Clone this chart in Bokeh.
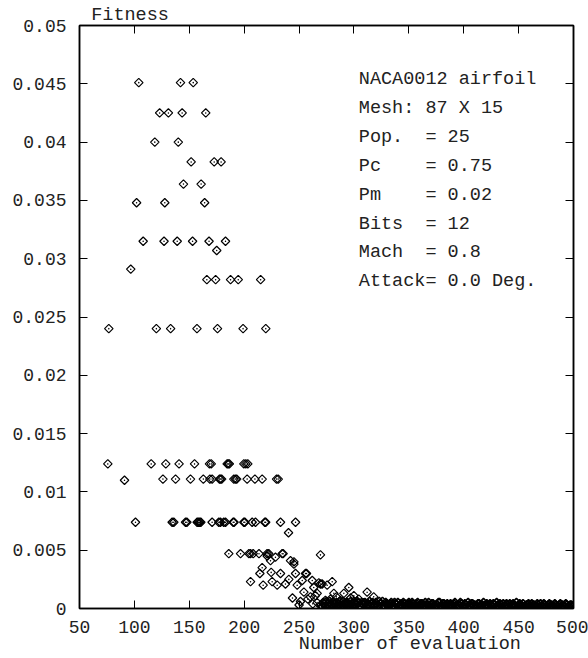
import math
from bokeh.plotting import figure
from bokeh.models import LinearAxis, FixedTicker, Label, Title
from bokeh.embed import file_html
from bokeh.resources import INLINE

# ---------------- data ----------------
x_ticks = [50, 100, 150, 200, 250, 300, 350, 400, 450, 500]
y_ticks = [0, 0.005, 0.01, 0.015, 0.02, 0.025, 0.03, 0.035, 0.04, 0.045, 0.05]
y_tick_labels = ["0", "0.005", "0.01", "0.015", "0.02", "0.025", "0.03",
                 "0.035", "0.04", "0.045", "0.05"]

x_label = "Number of evaluation"
y_label = "Fitness"
info_lines = ["NACA0012 airfoil", "Mesh: 87 X 15", "Pop.  = 25", "Pc    = 0.75",
              "Pm    = 0.02", "Bits  = 12", "Mach  = 0.8", "Attack= 0.0 Deg."]

# high-fitness region
high_x = [104, 142, 153.6,
          123, 131, 143.5, 165,
          118.6, 140,
          151.7, 172.7, 179,
          144.7, 160.8,
          102, 127.7, 164,
          108, 127, 139, 153, 168, 183,
          175,
          96.7,
          166, 174, 187.6, 194.6, 215,
          76.7, 120, 133, 157, 175.7, 199, 219.7]
high_y = [0.0451, 0.0451, 0.0451,
          0.0425, 0.0425, 0.0425, 0.0425,
          0.0400, 0.0400,
          0.0383, 0.0383, 0.0383,
          0.0364, 0.0364,
          0.0348, 0.0348, 0.0348,
          0.0315, 0.0315, 0.0315, 0.0315, 0.0315, 0.0315,
          0.0307,
          0.0291,
          0.0282, 0.0282, 0.0282, 0.0282, 0.0282,
          0.0240, 0.0240, 0.0240, 0.0240, 0.0240, 0.0240, 0.0240]

# middle rows
mid_x = [75.8, 115.3, 128.6, 140.7, 154.8, 168.4, 170, 184.5, 185.5, 186.5, 199.7, 201.5, 203.3,
         91,
         126, 137.5, 151.1, 162.8, 168.8, 170.8, 177.5, 178.4, 179.5, 190.6, 192.1, 193.2,
         202.7, 209.8, 216.4, 229.5, 231,
         101, 134.4, 135.9, 146.6, 147.8, 157.2, 158.3, 159.4, 160.5, 170.8, 176.9, 178.4,
         181.4, 183, 190, 190.8, 199.7, 200.6, 207.3, 210.3, 218.8, 219.6, 233.1, 246.8,
         240.4,
         186, 196.7, 204.3, 205.8, 208.2, 213.5, 220.9, 222.4, 234.6, 235.5, 269.5,
         221, 228.5, 242.2, 245.3]
mid_y = [0.0124, 0.0124, 0.0124, 0.0124, 0.0124, 0.0124, 0.0124, 0.0124, 0.0124, 0.0124,
         0.0124, 0.0124, 0.0124,
         0.0110,
         0.0111, 0.0111, 0.0111, 0.0111, 0.0111, 0.0111, 0.0111, 0.0111, 0.0111, 0.0111,
         0.0111, 0.0111, 0.0111, 0.0111, 0.0111, 0.0111, 0.0111,
         0.0074, 0.0074, 0.0074, 0.0074, 0.0074, 0.0074, 0.0074, 0.0074, 0.0074, 0.0074,
         0.0074, 0.0074, 0.0074, 0.0074, 0.0074, 0.0074, 0.0074, 0.0074, 0.0074, 0.0074,
         0.0074, 0.0074, 0.0074, 0.0074,
         0.0065,
         0.0047, 0.0047, 0.0047, 0.0047, 0.0047, 0.0047, 0.0047, 0.0047, 0.0047, 0.0047,
         0.0046,
         0.0045, 0.0044, 0.0041, 0.0038]

# converging region
low_x = [224, 245.3, 216.4, 214.3, 224.6, 233.1, 205.8, 217.3, 225.5, 230.1, 237.6, 240.7,
         246.8, 248.3, 256.8, 252.9, 254.4, 251.3, 262, 263.4, 260.4, 266.5, 271, 274,
         255.9, 280.2, 295.3, 312, 275.6, 269.5, 290.8, 299.9, 281.7, 264.9, 266.5,
         278.6, 287.7, 304.4, 309, 318, 268, 244, 250, 258, 262.5, 284, 292, 297]
low_y = [0.0041, 0.0040, 0.0035, 0.0030, 0.0031, 0.0030, 0.0023, 0.0020, 0.0023, 0.0020,
         0.0021, 0.0025, 0.0030, 0.0020, 0.0030, 0.0024, 0.0014, 0.0006, 0.0024, 0.0018,
         0.0010, 0.0013, 0.0021, 0.0007, 0.0030, 0.0023, 0.0018, 0.0014, 0.0020, 0.0021,
         0.0013, 0.0011, 0.0013, 0.0011, 0.0005, 0.0008, 0.0007, 0.0008, 0.0005, 0.0010,
         0.0022, 0.0009, 0.0003, 0.0008, 0.0004, 0.0010, 0.0004, 0.0009]

# converged tail (even evaluations)
tail_x = [270, 272, 274, 276, 278, 280, 282, 284, 286, 288,
          290, 292, 294, 296, 298, 300, 302, 304, 306, 308,
          310, 312, 314, 316, 318, 320, 322, 324, 326, 328,
          330, 332, 334, 336, 338, 340, 342, 344, 346, 348,
          350, 352, 354, 356, 358, 360, 362, 364, 366, 368,
          370, 372, 374, 376, 378, 380, 382, 384, 386, 388,
          390, 392, 394, 396, 398, 400, 402, 404, 406, 408,
          410, 412, 414, 416, 418, 420, 422, 424, 426, 428,
          430, 432, 434, 436, 438, 440, 442, 444, 446, 448,
          450, 452, 454, 456, 458, 460, 462, 464, 466, 468,
          470, 472, 474, 476, 478, 480, 482, 484, 486, 488,
          490, 492, 494, 496, 498, 500]
tail_y = [0.0003, 0.0005, 0.0002, 0.0004, 0.0006, 0.0003, 0.0001, 0.0005, 0.0004, 0.0002,
          0.0006, 0.0003, 0.0005, 0.0002, 0.0004, 0.0006, 0.0003, 0.0005, 0.0002, 0.0004,
          0.0005, 0.0003, 0.0006, 0.0004, 0.0002, 0.0005, 0.0003, 0.0004, 0.0006, 0.0002,
          0.0004, 0.0003, 0.0005, 0.0002, 0.0004, 0.0005, 0.0003, 0.0002, 0.0004, 0.0003,
          0.0005, 0.0002, 0.0004, 0.0003, 0.0005, 0.0002, 0.0004, 0.0003, 0.0002, 0.0005,
          0.0003, 0.0004, 0.0002, 0.0003, 0.0005, 0.0002, 0.0004, 0.0003, 0.0002, 0.0004,
          0.0003, 0.0005, 0.0002, 0.0003, 0.0004, 0.0002, 0.0003, 0.0005, 0.0002, 0.0004,
          0.0003, 0.0002, 0.0004, 0.0003, 0.0005, 0.0002, 0.0003, 0.0004, 0.0002, 0.0003,
          0.0005, 0.0002, 0.0003, 0.0004, 0.0002, 0.0003, 0.0004, 0.0002, 0.0003, 0.0005,
          0.0002, 0.0003, 0.0004, 0.0002, 0.0003, 0.0002, 0.0004, 0.0003, 0.0002, 0.0003,
          0.0004, 0.0002, 0.0003, 0.0002, 0.0004, 0.0003, 0.0002, 0.0003, 0.0002, 0.0004,
          0.0003, 0.0002, 0.0003, 0.0002, 0.0003, 0.0002]

# converged tail (odd evaluations)
tail2_x = [271, 273, 275, 277, 279, 281, 283, 285, 287, 289,
           291, 293, 295, 297, 299, 301, 303, 305, 307, 309,
           311, 313, 315, 317, 319, 321, 323, 325, 327, 329,
           331, 333, 335, 337, 339, 341, 343, 345, 347, 349,
           351, 353, 355, 357, 359, 361, 363, 365, 367, 369,
           371, 373, 375, 377, 379, 381, 383, 385, 387, 389,
           391, 393, 395, 397, 399, 401, 403, 405, 407, 409,
           411, 413, 415, 417, 419, 421, 423, 425, 427, 429,
           431, 433, 435, 437, 439, 441, 443, 445, 447, 449,
           451, 453, 455, 457, 459, 461, 463, 465, 467, 469,
           471, 473, 475, 477, 479, 481, 483, 485, 487, 489,
           491, 493, 495, 497, 499]
tail2_y = [0.0001, 0.0004, 0.0006, 0.0002, 0.0003, 0.0005, 0.0004, 0.0001, 0.0006, 0.0003,
           0.0002, 0.0005, 0.0003, 0.0006, 0.0001, 0.0004, 0.0006, 0.0002, 0.0005, 0.0003,
           0.0001, 0.0004, 0.0002, 0.0005, 0.0003, 0.0002, 0.0006, 0.0001, 0.0003, 0.0005,
           0.0002, 0.0004, 0.0001, 0.0005, 0.0003, 0.0002, 0.0004, 0.0005, 0.0001, 0.0004,
           0.0003, 0.0005, 0.0001, 0.0004, 0.0002, 0.0004, 0.0001, 0.0005, 0.0003, 0.0002,
           0.0004, 0.0001, 0.0003, 0.0005, 0.0002, 0.0004, 0.0001, 0.0004, 0.0003, 0.0002,
           0.0004, 0.0001, 0.0003, 0.0005, 0.0002, 0.0004, 0.0001, 0.0003, 0.0004, 0.0002,
           0.0001, 0.0004, 0.0002, 0.0003, 0.0001, 0.0004, 0.0002, 0.0003, 0.0004, 0.0001,
           0.0003, 0.0004, 0.0001, 0.0002, 0.0004, 0.0001, 0.0003, 0.0004, 0.0002, 0.0001,
           0.0004, 0.0002, 0.0001, 0.0003, 0.0004, 0.0001, 0.0003, 0.0002, 0.0004, 0.0001,
           0.0002, 0.0004, 0.0001, 0.0003, 0.0002, 0.0001, 0.0004, 0.0002, 0.0003, 0.0001,
           0.0002, 0.0004, 0.0001, 0.0003, 0.0002]

# ---------------- figure ----------------
FONT = "Liberation Mono"
NBSP = "\u00a0"

p = figure(width=588, height=658, x_range=(50, 500), y_range=(0, 0.05),
           output_backend="svg", toolbar_location=None,
           min_border_left=79, min_border_right=15, min_border_top=25, min_border_bottom=50)
p.xaxis.visible = False
p.yaxis.visible = False
p.grid.visible = False
p.outline_line_color = "black"
p.outline_line_width = 1.5
p.background_fill_color = "white"
p.border_fill_color = "white"


def style_axis(ax, show_labels):
    ax.axis_line_color = "black"
    ax.axis_line_width = 1.5
    ax.major_tick_in = 8
    ax.major_tick_out = 0
    ax.major_tick_line_color = "black"
    ax.major_tick_line_width = 1
    ax.minor_tick_line_color = None
    if show_labels:
        ax.major_label_text_font = FONT
        ax.major_label_text_font_size = "18px"
        ax.major_label_text_color = "#222222"
    else:
        ax.major_label_text_font_size = "0px"
        ax.major_label_standoff = 0


bottom = LinearAxis(ticker=FixedTicker(ticks=x_ticks))
style_axis(bottom, True)
bottom.major_label_standoff = 12
p.add_layout(bottom, "below")

left = LinearAxis(ticker=FixedTicker(ticks=y_ticks))
style_axis(left, True)
left.major_label_standoff = 13
left.major_label_overrides = {t: s for t, s in zip(y_ticks, y_tick_labels)}
p.add_layout(left, "left")

top = LinearAxis(ticker=FixedTicker(ticks=x_ticks))
style_axis(top, False)
p.add_layout(top, "above")

right = LinearAxis(ticker=FixedTicker(ticks=y_ticks))
style_axis(right, False)
p.add_layout(right, "right")

main_x = high_x + mid_x + low_x
main_y = high_y + mid_y + low_y
p.scatter(main_x, main_y, marker="square_dot", size=6, angle=math.pi / 4,
          fill_color=None, line_color="black", line_width=1.2)

band_x = tail_x + tail2_x
band_y = tail_y + tail2_y
p.scatter(band_x, band_y, marker="square_dot", size=6, angle=math.pi / 4,
          fill_color=None, line_color="black", line_width=1.6)

# axis titles as layout titles (outside the frame)
top_title = Title(text=y_label, align="left", offset=11.7, standoff=0,
                  text_font=FONT, text_font_size="18.5px", text_font_style="normal",
                  text_color="#222222")
p.add_layout(top_title, "above")

bottom_title = Title(text=x_label, align="left", offset=219.3, standoff=-7,
                     text_font=FONT, text_font_size="18.5px", text_font_style="normal",
                     text_color="#222222")
p.add_layout(bottom_title, "below")

# info block
px_per_y = 11660.0
for i, line in enumerate(info_lines):
    baseline_px = 79 + i * 28.9
    p.add_layout(Label(x=304.4, y=(608 - baseline_px) / px_per_y,
                       text=line.replace(" ", NBSP),
                       text_font=FONT, text_font_size="18.5px",
                       text_color="#222222", text_baseline="alphabetic",
                       text_align="left"))

open("out.html", "w").write(file_html(p, INLINE))
